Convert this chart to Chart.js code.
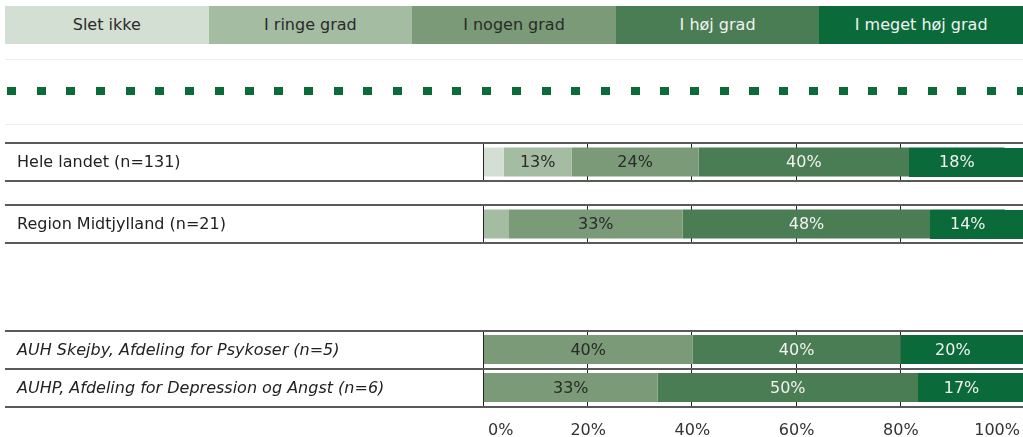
<!DOCTYPE html>
<html>
<head>
<meta charset="utf-8">
<script src="https://cdn.jsdelivr.net/npm/chart.js@4.4.1/dist/chart.umd.min.js"></script>
<style>
  body { margin: 0; background: #fff; width: 1023px; height: 437px; overflow: hidden; position: relative;
         font-family: "DejaVu Sans", Verdana, sans-serif; }
  #legend { position: absolute; left: 5px; top: 6px; width: 1018px; height: 38px; display: flex; }
  #legend div { flex: 1; text-align: center; line-height: 38px; font-size: 16px; }
  #bench { position: absolute; left: 5px; top: 59px; width: 1018px; height: 64px;
           border-top: 1px solid #eeeeee; border-bottom: 1px solid #eeeeee; }
  #bench div { position: absolute; left: 2px; right: 0; top: 27px; height: 8px;
               background: repeating-linear-gradient(to right, #0b6a3a 0px, #0b6a3a 9px, transparent 9px, transparent 29.7px); }
  canvas { position: absolute; left: 0; }
  #topChart { top: 131px; }
  #bottomChart { top: 325px; }
</style>
</head>
<body>
<div id="legend"></div>
<div id="bench"><div></div></div>
<canvas id="topChart" width="1023" height="124"></canvas>
<canvas id="bottomChart" width="1023" height="112"></canvas>
<script>
// answer categories (legend order)
const answers = ['Slet ikke', 'I ringe grad', 'I nogen grad', 'I høj grad', 'I meget høj grad'];
const colors = ['#d4dfd3', '#a3bca2', '#7a9a78', '#4a7d53', '#0b6a3a'];
const textColors = ['#2a2a2a', '#2a2a2a', '#2a2a2a', '#f2f2f2', '#f2f2f2'];

// rows
const regionRows = ['Hele landet (n=131)', 'Region Midtjylland (n=21)'];
const unitRows = ['AUH Skejby, Afdeling for Psykoser (n=5)', 'AUHP, Afdeling for Depression og Angst (n=6)'];

// percentages per answer, one value per row (regions first, then units)
const sletIkke       = [3.8, 0, 0, 0];
const iRingeGrad     = [13.0, 4.8, 0, 0];
const iNogenGrad     = [24.4, 33.3, 40, 33.3];
const iHoejGrad      = [40.4, 47.6, 40, 50];
const iMegetHoejGrad = [18.3, 14.3, 20, 16.7];
const series = [sletIkke, iRingeGrad, iNogenGrad, iHoejGrad, iMegetHoejGrad];

const tickValues = [0, 20, 40, 60, 80, 100];

const FONT = '16px "DejaVu Sans", Verdana, sans-serif';

// header legend
const legendEl = document.getElementById('legend');
answers.forEach((a, i) => {
  const d = document.createElement('div');
  d.textContent = a;
  d.style.background = colors[i];
  d.style.color = textColors[i];
  legendEl.appendChild(d);
});

// frames, labels, value texts, x labels
const rowFrame = {
  id: 'rowFrame',
  beforeDatasetsDraw(chart, args, opts) {
    const ctx = chart.ctx, xs = chart.scales.x, ys = chart.scales.y, area = chart.chartArea;
    ctx.save();
    chart.data.labels.forEach((label, i) => {
      const cy = ys.getPixelForValue(i);
      const top = Math.round(cy - opts.boxHeight / 2);
      const bottom = Math.round(cy + opts.boxHeight / 2);
      // grid lines inside the row
      ctx.strokeStyle = '#222';
      ctx.lineWidth = 1;
      tickValues.forEach(v => {
        if (v === 0 || v === 100) return;
        const x = Math.round(xs.getPixelForValue(v)) - 0.5;
        ctx.beginPath(); ctx.moveTo(x, top); ctx.lineTo(x, bottom); ctx.stroke();
      });
      const lx = Math.round(area.left) - 0.5;
      ctx.beginPath(); ctx.moveTo(lx, top); ctx.lineTo(lx, bottom); ctx.stroke();
      // horizontal lines
      ctx.strokeStyle = '#5a5a5a';
      ctx.lineWidth = 2;
      [top, bottom].forEach(yy => {
        ctx.beginPath(); ctx.moveTo(5, yy); ctx.lineTo(chart.width, yy); ctx.stroke();
      });
      // row label
      ctx.fillStyle = '#222';
      ctx.font = (opts.italic ? 'italic ' : '') + FONT;
      ctx.textAlign = 'left';
      ctx.textBaseline = 'middle';
      ctx.fillText(label, 17, cy + 1);
    });
    ctx.restore();
  },
  afterDatasetsDraw(chart, args, opts) {
    const ctx = chart.ctx;
    ctx.save();
    const n = chart.data.datasets.length;
    // last segment continues to the right edge
    chart.data.labels.forEach((label, i) => {
      for (let d = n - 1; d >= 0; d--) {
        if (chart.data.datasets[d].data[i] > 0) {
          const el = chart.getDatasetMeta(d).data[i];
          const p = el.getProps(['base', 'y', 'height'], true);
          ctx.fillStyle = chart.data.datasets[d].backgroundColor;
          ctx.fillRect(Math.round(p.base), Math.round(p.y - p.height / 2), chart.width - Math.round(p.base), Math.round(p.height));
          break;
        }
      }
    });
    ctx.font = FONT;
    ctx.textAlign = 'center';
    ctx.textBaseline = 'middle';
    chart.data.datasets.forEach((ds, d) => {
      chart.getDatasetMeta(d).data.forEach((el, i) => {
        const v = ds.data[i];
        if (Math.round(v) < 8) return;
        const p = el.getProps(['x', 'y', 'base'], true);
        ctx.fillStyle = textColors[d];
        ctx.fillText(Math.round(v) + '%', (p.x + p.base) / 2, p.y + 1);
      });
    });
    ctx.restore();
  },
  afterDraw(chart, args, opts) {
    if (!opts.xLabels) return;
    const ctx = chart.ctx, xs = chart.scales.x, area = chart.chartArea;
    ctx.save();
    ctx.font = FONT;
    ctx.fillStyle = '#333';
    ctx.textBaseline = 'middle';
    tickValues.forEach((v, k) => {
      let x = xs.getPixelForValue(v);
      if (k === 0) { ctx.textAlign = 'left'; x += 4; }
      else if (k === tickValues.length - 1) { ctx.textAlign = 'right'; x = chart.width - 3; }
      else ctx.textAlign = 'center';
      ctx.fillText(v + '%', x, area.bottom + 24);
    });
    ctx.restore();
  }
};

function makeChart(id, rows, from, padding, italic, xLabels) {
  return new Chart(document.getElementById(id), {
    type: 'bar',
    data: {
      labels: rows,
      datasets: answers.map((a, i) => ({
        label: a,
        data: series[i].slice(from, from + rows.length),
        backgroundColor: colors[i],
        borderWidth: 0,
        inflateAmount: 0,
        barThickness: 29
      }))
    },
    options: {
      indexAxis: 'y',
      responsive: false,
      animation: false,
      layout: { padding: padding },
      scales: {
        x: { stacked: true, min: 0, max: 100, display: false },
        y: { stacked: true, display: false }
      },
      plugins: {
        legend: { display: false },
        tooltip: { enabled: false },
        rowFrame: { boxHeight: 38, italic: italic, xLabels: xLabels }
      }
    },
    plugins: [rowFrame]
  });
}

makeChart('topChart', regionRows, 0, { left: 484, right: 18, top: 0, bottom: 0 }, false, false);
makeChart('bottomChart', unitRows, 2, { left: 484, right: 18, top: 5.5, bottom: 30.5 }, true, true);
</script>
</body>
</html>
